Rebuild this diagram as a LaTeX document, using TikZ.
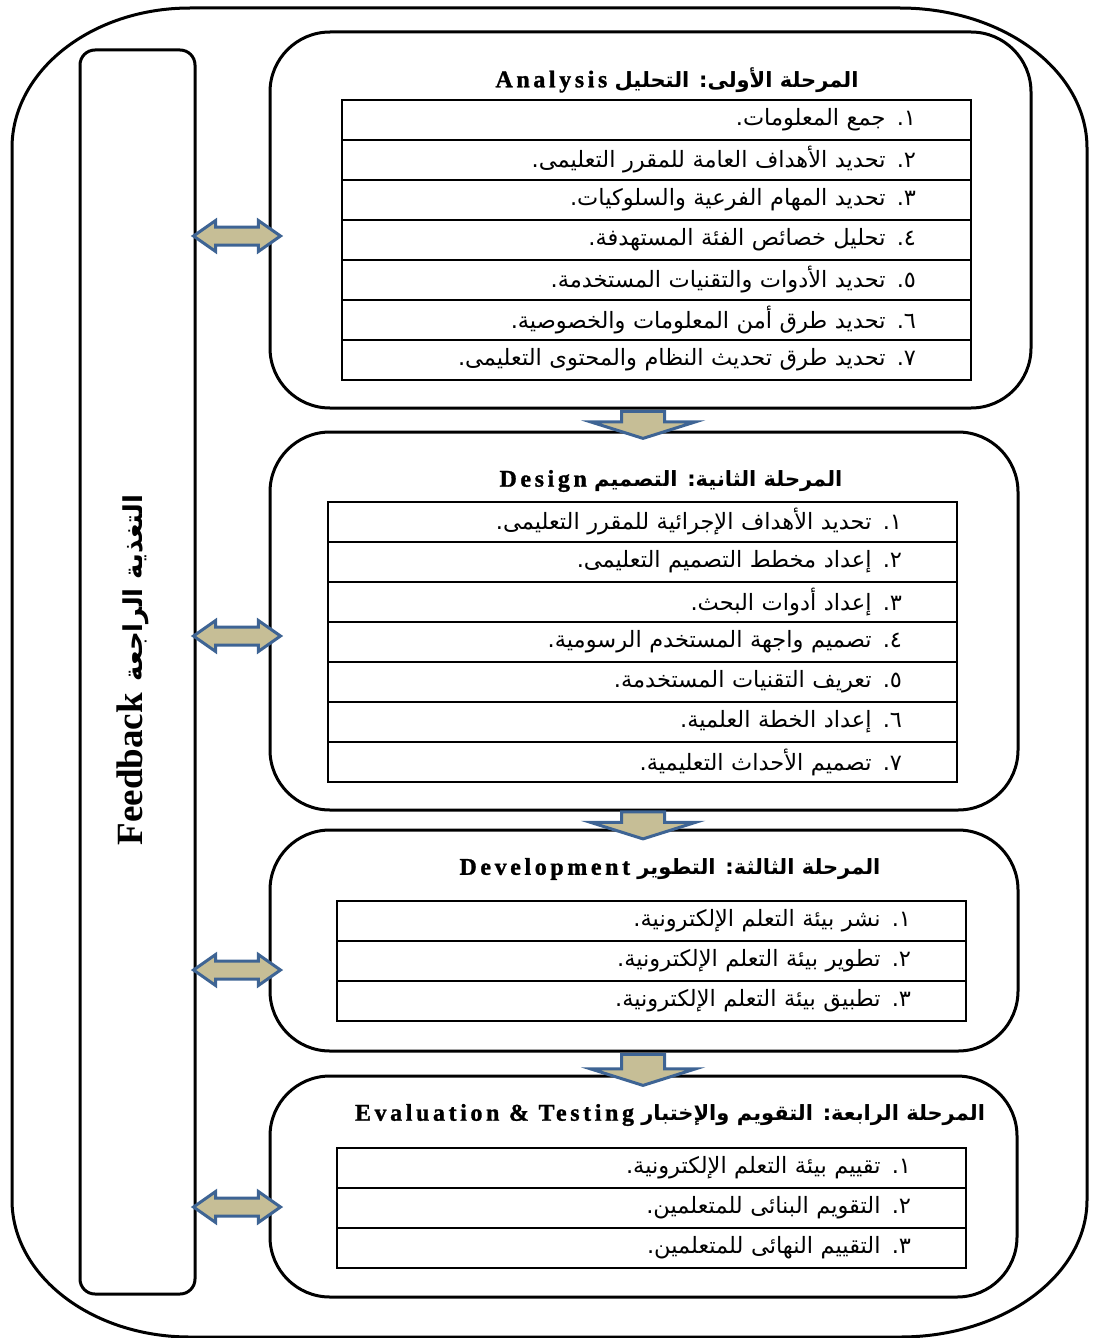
\documentclass[tikz,border=0pt]{standalone}
\usepackage{fontspec}
\setmainfont{Liberation Serif}
\newfontfamily\arabicfont[Script=Arabic]{DejaVu Sans}
\newfontfamily\spacedfont[LetterSpace=15, UprightFont={* Bold}, FakeBold=1.2]{Liberation Serif}
\TeXXeTstate=1
\usetikzlibrary{shapes.arrows, positioning}

\definecolor{arrowfill}{RGB}{198,190,150}
\definecolor{arrowline}{RGB}{62,100,148}

\newcommand{\ar}[1]{{\arabicfont\beginR #1\endR}}
\newcommand{\phase}[2]{{\arabicfont\bfseries\beginR #1 \beginL{\spacedfont\fontsize{24}{28}\selectfont #2}\endL\endR}}

\begin{document}
\begin{tikzpicture}[
  x=1pt, y=-1pt,
  frameline/.style={line width=3pt, line join=round},
  stagebox/.style={draw, line width=3pt, rounded corners=60pt, inner sep=0pt},
  fbbox/.style={draw, line width=3pt, rounded corners=15pt, inner sep=0pt},
  rowcell/.style={draw, line width=2.4pt, outer sep=0pt, minimum height=40pt, inner ysep=0pt, inner xsep=55pt, text width=519pt, align=right, font=\fontsize{22.5}{26}\selectfont},
  stagetitle/.style={font=\fontsize{21}{25}\selectfont, inner sep=0pt},
  fbarrow/.style={double arrow, draw=arrowline, fill=arrowfill, line width=3pt, inner xsep=0pt, inner ysep=7.5pt, minimum width=0pt, minimum height=87pt, double arrow head extend=6.5pt, double arrow tip angle=70},
  downarrow/.style={single arrow, draw=arrowline, fill=arrowfill, line width=3pt, inner xsep=0pt, inner ysep=20pt, minimum width=0pt, minimum height=27pt, single arrow head extend=31pt, single arrow tip angle=145, rotate=-90}
]
\useasboundingbox (0,0) rectangle (1092,1338);

% outer frame
\draw[frameline] (190,8) -- (900,8) arc[start angle=-90, end angle=0, x radius=187, y radius=140]
  -- (1087,1200) arc[start angle=0, end angle=90, x radius=187, y radius=137]
  -- (190,1337) arc[start angle=90, end angle=180, x radius=178, y radius=137]
  -- (12,148) arc[start angle=180, end angle=270, x radius=178, y radius=140] -- cycle;

% feedback column
\node[fbbox, minimum width=115pt, minimum height=1244pt] (fb) at (137.5,672) {};
\node[rotate=90, inner sep=0pt] (fblabel) at (133,670)
  {{\fontsize{37}{40}\selectfont\bfseries Feedback}\hspace{12pt}{\fontsize{26}{30}\selectfont\bfseries\ar{التغذية الراجعة}}};

% stage boxes
\node[stagebox, minimum width=761pt, minimum height=376pt] (s1) at (650.5,220) {};
\node[stagebox, minimum width=748pt, minimum height=378pt] (s2) at (644,621) {};
\node[stagebox, minimum width=748pt, minimum height=221pt] (s3) at (644,940.5) {};
\node[stagebox, minimum width=747pt, minimum height=221pt] (s4) at (643.5,1186.5) {};

% Analysis
\node[stagetitle] (t1) at (677,80) {\phase{المرحلة الأولى: التحليل}{Analysis}};
\node[rowcell, anchor=north west] (a1) at (342,100) {\ar{١. جمع المعلومات.}};
\node[rowcell] (a2) [below=0pt of a1] {\ar{٢. تحديد الأهداف العامة للمقرر التعليمى.}};
\node[rowcell] (a3) [below=0pt of a2] {\ar{٣. تحديد المهام الفرعية والسلوكيات.}};
\node[rowcell] (a4) [below=0pt of a3] {\ar{٤. تحليل خصائص الفئة المستهدفة.}};
\node[rowcell] (a5) [below=0pt of a4] {\ar{٥. تحديد الأدوات والتقنيات المستخدمة.}};
\node[rowcell] (a6) [below=0pt of a5] {\ar{٦. تحديد طرق أمن المعلومات والخصوصية.}};
\node[rowcell] (a7) [below=0pt of a6] {\ar{٧. تحديد طرق تحديث النظام والمحتوى التعليمى.}};

% Design
\node[stagetitle] (t2) at (671,481) {\phase{المرحلة الثانية: التصميم}{Design}};
\node[rowcell, anchor=north west] (d1) at (328,502) {\ar{١.  تحديد الأهداف الإجرائية للمقرر التعليمى.}};
\node[rowcell] (d2) [below=0pt of d1] {\ar{٢.  إعداد مخطط التصميم التعليمى.}};
\node[rowcell] (d3) [below=0pt of d2] {\ar{٣.  إعداد أدوات البحث.}};
\node[rowcell] (d4) [below=0pt of d3] {\ar{٤.  تصميم واجهة المستخدم الرسومية.}};
\node[rowcell] (d5) [below=0pt of d4] {\ar{٥.  تعريف التقنيات المستخدمة.}};
\node[rowcell] (d6) [below=0pt of d5] {\ar{٦.  إعداد الخطة العلمية.}};
\node[rowcell] (d7) [below=0pt of d6] {\ar{٧.  تصميم الأحداث التعليمية.}};

% Development
\node[stagetitle] (t3) at (670,869) {\phase{المرحلة الثالثة: التطوير}{Development}};
\node[rowcell, anchor=north west] (v1) at (337,901) {\ar{١. نشر بيئة التعلم الإلكترونية.}};
\node[rowcell] (v2) [below=0pt of v1] {\ar{٢. تطوير بيئة التعلم الإلكترونية.}};
\node[rowcell] (v3) [below=0pt of v2] {\ar{٣. تطبيق بيئة التعلم الإلكترونية.}};

% Evaluation
\node[stagetitle] (t4) at (670,1115) {\phase{المرحلة الرابعة: التقويم والإختبار}{Evaluation \& Testing}};
\node[rowcell, anchor=north west] (e1) at (337,1148) {\ar{١. تقييم بيئة التعلم الإلكترونية.}};
\node[rowcell] (e2) [below=0pt of e1] {\ar{٢. التقويم البنائى للمتعلمين.}};
\node[rowcell] (e3) [below=0pt of e2] {\ar{٣. التقييم النهائى للمتعلمين.}};

% feedback arrows
\node[fbarrow] (f1) at (237,236) {};
\node[fbarrow] (f2) at (237,636) {};
\node[fbarrow] (f3) at (237,970) {};
\node[fbarrow] (f4) at (237,1207) {};

% flow between stages
\node[downarrow] (g1) at (643,421.5) {};
\node[downarrow] (g2) at (643,822) {};
\node[downarrow, minimum height=31pt] (g3) at (643,1066.5) {};
\end{tikzpicture}
\end{document}
